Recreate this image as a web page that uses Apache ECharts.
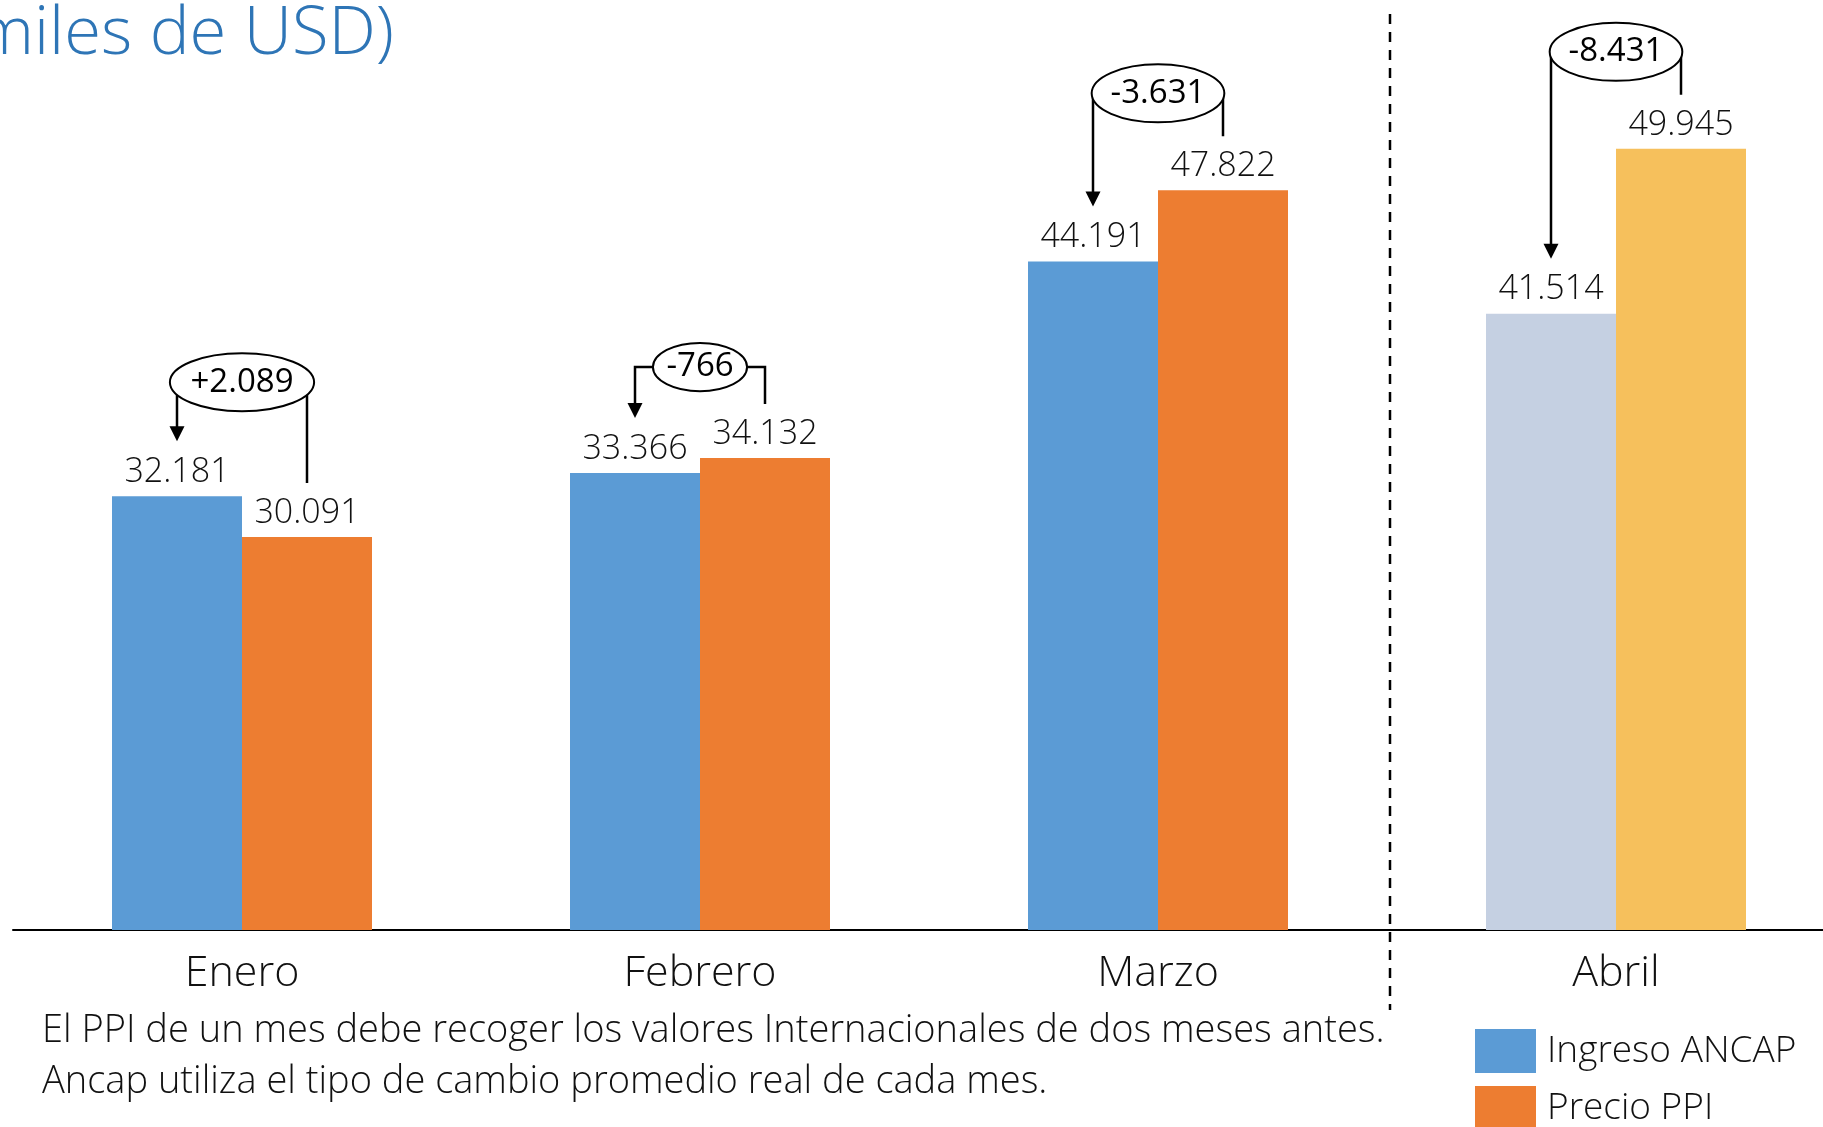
<!DOCTYPE html>
<html>
<head>
<meta charset="utf-8">
<title>Ingreso ANCAP vs Precio PPI</title>
<script src="https://cdn.jsdelivr.net/npm/echarts@6/dist/echarts.min.js"></script>
<style>
  html, body { margin: 0; padding: 0; background: #fff; }
  #main { width: 1823px; height: 1127px; }
</style>
</head>
<body>
<div id="main"></div>
<script>
// datos (miles de USD)
const meses = ["Enero", "Febrero", "Marzo", "Abril"];
const ingresoAncap = [32181, 33366, 44191, 41514];
const precioPPI = [30091, 34132, 47822, 49945];
const diferencias = ["+2.089", "-766", "-3.631", "-8.431"];
const notas = [
  "El PPI de un mes debe recoger los valores Internacionales de dos meses antes.",
  "Ancap utiliza el tipo de cambio promedio real de cada mes."
];
const mesParcial = 3; // Abril va con colores mas claros

// layout de las burbujas: cuanto suben sobre la barra mas alta
const elevacion = [114, 91, 97, 97];

const FONT = "'Open Sans', sans-serif";
const AZUL = "#5B9BD5", NARANJA = "#ED7D31";
const AZUL_CLARO = "#C5D0E2", AMARILLO = "#F6C05C";
const BAR_W = 130;

// 32181 -> "32.181"
function fmt(v) {
  return String(v).replace(/\B(?=(\d{3})+(?!\d))/g, ".");
}

const chart = echarts.init(document.getElementById("main"));

const etiqueta = {
  show: true,
  position: "top",
  distance: 7,
  fontFamily: FONT,
  fontWeight: 300,
  fontSize: 34,
  color: "#111",
  formatter: (p) => fmt(p.value),
};

chart.setOption({
  animation: false,
  grid: { left: 13, top: 50, bottom: 197, width: 1832, containLabel: false, outerBoundsMode: "none" },
  legend: {
    orient: "vertical",
    left: 1475,
    top: 1029,
    height: 160,
    itemWidth: 61,
    itemHeight: 44,
    itemGap: 13,
    padding: 0,
    icon: "rect",
    textStyle: { fontFamily: FONT, fontWeight: 300, fontSize: 37, color: "#111", padding: [0, 0, 0, 6] },
    data: ["Ingreso ANCAP", "Precio PPI"],
  },
  xAxis: {
    type: "category",
    data: meses,
    axisLine: { show: true, lineStyle: { color: "#000", width: 2 } },
    axisTick: { show: false },
    axisLabel: { fontFamily: FONT, fontWeight: 300, fontSize: 43, color: "#111", margin: 22 },
  },
  yAxis: {
    type: "value",
    min: 10000,
    max: 55000,
    show: false,
    splitLine: { show: false },
  },
  series: [
    {
      name: "Ingreso ANCAP",
      type: "bar",
      barWidth: BAR_W,
      barGap: "0%",
      itemStyle: { color: AZUL },
      label: etiqueta,
      data: ingresoAncap.map((v, i) => (i === mesParcial ? { value: v, itemStyle: { color: AZUL_CLARO } } : v)),
    },
    {
      name: "Precio PPI",
      type: "bar",
      barWidth: BAR_W,
      barGap: "0%",
      itemStyle: { color: NARANJA },
      label: etiqueta,
      data: precioPPI.map((v, i) => (i === mesParcial ? { value: v, itemStyle: { color: AMARILLO } } : v)),
    },
  ],
});

// anotaciones con la diferencia, ubicadas segun las barras
const ctx = document.createElement("canvas").getContext("2d");
ctx.font = "400 33px " + FONT;

const els = [];
meses.forEach((m, i) => {
  const pA = chart.convertToPixel({ xAxisIndex: 0, yAxisIndex: 0 }, [i, ingresoAncap[i]]);
  const pP = chart.convertToPixel({ xAxisIndex: 0, yAxisIndex: 0 }, [i, precioPPI[i]]);
  const xA = pA[0] - BAR_W / 2, xP = pP[0] + BAR_W / 2;
  const cx = pA[0];
  const cy = Math.min(pA[1], pP[1]) - elevacion[i];
  const tw = ctx.measureText(diferencias[i]).width;
  const rx = tw * 0.7;
  const ry = Math.min(29, tw * 0.36);
  const punta = pA[1] - 55;

  els.push({
    type: "polyline", z: 10,
    shape: { points: [[cx, cy], [xA, cy], [xA, punta - 12]] },
    style: { stroke: "#000", lineWidth: 2.5, fill: null },
  });
  els.push({
    type: "polygon", z: 10,
    shape: { points: [[xA - 7.5, punta - 15], [xA + 7.5, punta - 15], [xA, punta]] },
    style: { fill: "#000" },
  });
  els.push({
    type: "polyline", z: 10,
    shape: { points: [[cx, cy], [xP, cy], [xP, pP[1] - 54]] },
    style: { stroke: "#000", lineWidth: 2.5, fill: null },
  });
  els.push({
    type: "ellipse", z: 11,
    shape: { cx: cx, cy: cy, rx: rx, ry: ry },
    style: { fill: "#fff", stroke: "#000", lineWidth: 2 },
  });
  els.push({
    type: "text", z: 12,
    style: {
      text: diferencias[i], x: cx, y: cy,
      align: "center", verticalAlign: "middle",
      textAlign: "center", textVerticalAlign: "middle",
      font: "400 33px " + FONT, fill: "#000",
    },
  });
});

// linea punteada entre Marzo y Abril
const xM = chart.convertToPixel({ xAxisIndex: 0 }, 2);
const xAb = chart.convertToPixel({ xAxisIndex: 0 }, 3);
const xSep = (xM + xAb) / 2 + 3;
els.push({
  type: "line", z: 5,
  shape: { x1: xSep, y1: 14, x2: xSep, y2: 1010 },
  style: { stroke: "#000", lineWidth: 2.5, lineDash: [10, 8] },
});

// titulo (cortado en el original)
els.push({
  type: "text",
  style: {
    text: "(miles de USD)", x: 394, y: 35,
    align: "right", verticalAlign: "middle",
    textAlign: "right", textVerticalAlign: "middle",
    font: "300 67px " + FONT, fill: "#2E75B6",
  },
});

// notas al pie
notas.forEach((t, k) => {
  els.push({
    type: "text",
    style: {
      text: t, x: 42, y: 1031 + k * 51,
      align: "left", verticalAlign: "middle",
      textAlign: "left", textVerticalAlign: "middle",
      font: "300 38px " + FONT, fill: "#111",
    },
  });
});

chart.setOption({ graphic: { elements: els } });
</script>
</body>
</html>
